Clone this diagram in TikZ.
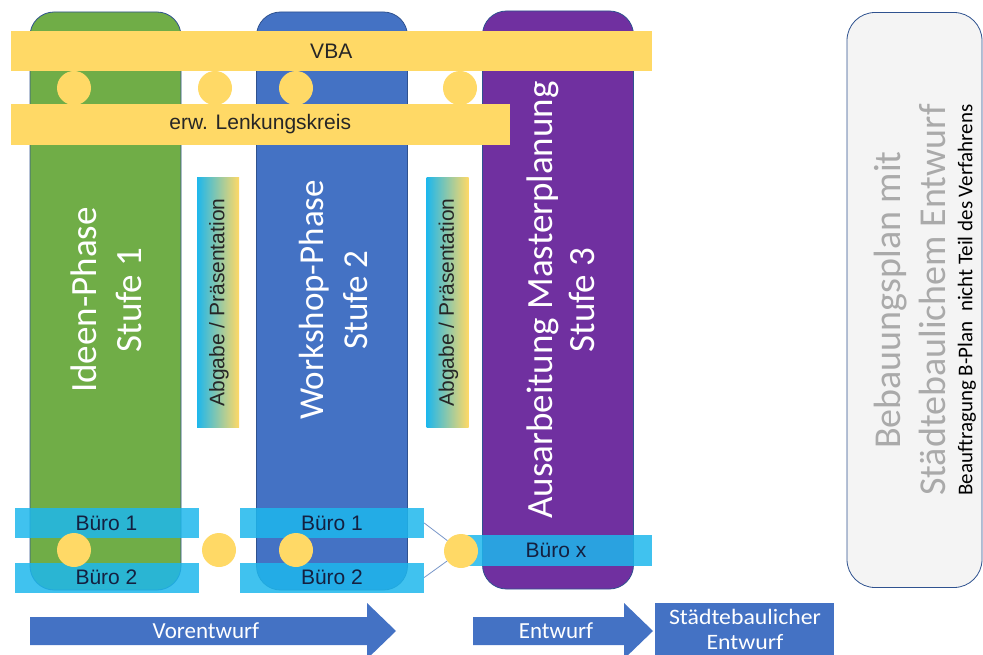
\documentclass[tikz,border=0pt]{standalone}
\usepackage{fontspec}
\setmainfont{Liberation Sans}
\newfontfamily\calf{Carlito}
\newfontfamily\calwide[FakeStretch=1.08]{Carlito}
\definecolor{cgreen}{RGB}{112,173,71}
\definecolor{cblue}{RGB}{68,114,196}
\definecolor{cpurple}{RGB}{112,48,160}
\definecolor{cyell}{RGB}{255,217,102}
\definecolor{ccyan}{RGB}{30,183,236}
\definecolor{cbord}{RGB}{47,82,143}
\definecolor{cdark}{RGB}{38,38,38}
\definecolor{cnavy}{RGB}{20,32,64}
\definecolor{cgrayt}{RGB}{170,170,170}
\definecolor{cbox}{RGB}{244,244,244}
\definecolor{cline}{RGB}{120,150,200}
\tikzset{
  colbox/.style={draw=cbord, line width=0.8pt, rounded corners=24pt, minimum width=151pt, minimum height=578pt, inner sep=0pt},
  ybar/.style={fill=cyell, inner sep=0pt, text=cdark, font=\fontsize{21}{25}\selectfont},
  dot/.style={circle, fill=cyell, minimum size=34pt, inner sep=0pt},
  buero/.style={fill=ccyan, fill opacity=0.85, text opacity=1, inner sep=0pt, minimum width=184pt, minimum height=30pt, text=cnavy, font=\fontsize{21}{25}\selectfont},
  abg/.style={left color=ccyan, right color=cyell, inner sep=0pt, minimum width=42pt, minimum height=249pt},
  abgtext/.style={rotate=90, text=cdark, font=\fontsize{21}{25}\selectfont},
  phase/.style={rotate=90, text=white, align=center},
  arrowfill/.style={fill=cblue},
  arrtext/.style={text=white, font=\calf\fontsize{23}{27}\selectfont},
  conn/.style={draw=cline, line width=0.8pt}
}
\begin{document}
\begin{tikzpicture}[x=1pt,y=-1pt]
\useasboundingbox (0,0) rectangle (983,655);
% columns
\node[colbox, fill=cgreen] (c1) at (105.5,301) {};
\node[colbox, fill=cblue] (c2) at (332,301) {};
\node[colbox, fill=cpurple] (c3) at (558,300) {};
% phase texts
\node[phase, font=\calf\fontsize{37}{45}\selectfont] (t1) at (106,300) {Ideen-Phase\\Stufe 1};
\node[phase, font=\calf\fontsize{35}{44}\selectfont] (t2) at (333,300) {Workshop-Phase\\Stufe 2};
\node[phase, font=\calf\fontsize{37}{42}\selectfont] (t3) at (561,300) {Ausarbeitung Masterplanung\\Stufe 3};
% yellow bars
\node[ybar, minimum width=641.5pt, minimum height=40.5pt] (vba) at (331.25,51) {VBA};
\node[ybar, minimum width=499.5pt, minimum height=41pt] (lk) at (260.25,124.5) {erw. Lenkungskreis};
% top dots
\node[dot] (d1) at (74,88) {};
\node[dot] (d2) at (215,88) {};
\node[dot] (d3) at (296,88) {};
\node[dot] (d4) at (460,88) {};
% Abgabe boxes
\node[abg] (a1) at (218,302.5) {};
\node[abgtext] (a1t) at (219,302.5) {Abgabe / Präsentation};
\node[abg] (a2) at (447.5,302.5) {};
\node[abgtext] (a2t) at (448.5,302.5) {Abgabe / Präsentation};
% Buero bars
\node[buero] (b1a) at (106.5,523) {Büro 1};
\node[buero] (b2a) at (106.5,577.5) {Büro 2};
\node[buero] (b1b) at (332,523) {Büro 1};
\node[buero] (b2b) at (332,577.5) {Büro 2};
\node[buero, minimum width=192pt, minimum height=31pt] (bx) at (556,550.5) {Büro x};
% bottom dots
\node[dot] (e1) at (74,550) {};
\node[dot] (e2) at (219,550) {};
\node[dot] (e3) at (296,550) {};
\node[dot] (e4) at (461,551) {};
\draw[conn] (b1b.east) -- (e4);
\draw[conn] (b2b.east) -- (e4);
% arrows
\fill[arrowfill] (30,617) -- (367,617) -- (367,603) -- (396,631) -- (367,659) -- (367,645) -- (30,645) -- cycle;
\node[arrtext] (vor) at (206,631) {Vorentwurf};
\fill[arrowfill] (473,617) -- (624,617) -- (624,603) -- (653,631) -- (624,659) -- (624,645) -- (473,645) -- cycle;
\node[arrtext] (ent) at (556,631) {Entwurf};
\node[fill=cblue, minimum width=179pt, minimum height=60pt, inner sep=0pt] (se) at (744.5,633) {};
\node[text=white, align=center, font=\calwide\fontsize{22}{25}\selectfont] (set) at (745,629) {Städtebaulicher\\Entwurf};
% right box
\node[draw=cbord, line width=0.8pt, fill=cbox, rounded corners=28pt, minimum width=135pt, minimum height=575pt, inner sep=0pt] (rb) at (914.5,300) {};
\node[rotate=90, text=cgrayt, align=center, font=\calf\fontsize{38}{45}\selectfont] (rbt) at (910,300) {Bebauungsplan mit\\Städtebaulichem Entwurf};
\node[rotate=90, text=black, font=\calf\fontsize{21}{25}\selectfont] (rbs) at (967,300) {Beauftragung B-Plan\ \ nicht Teil des Verfahrens};
\end{tikzpicture}
\end{document}
